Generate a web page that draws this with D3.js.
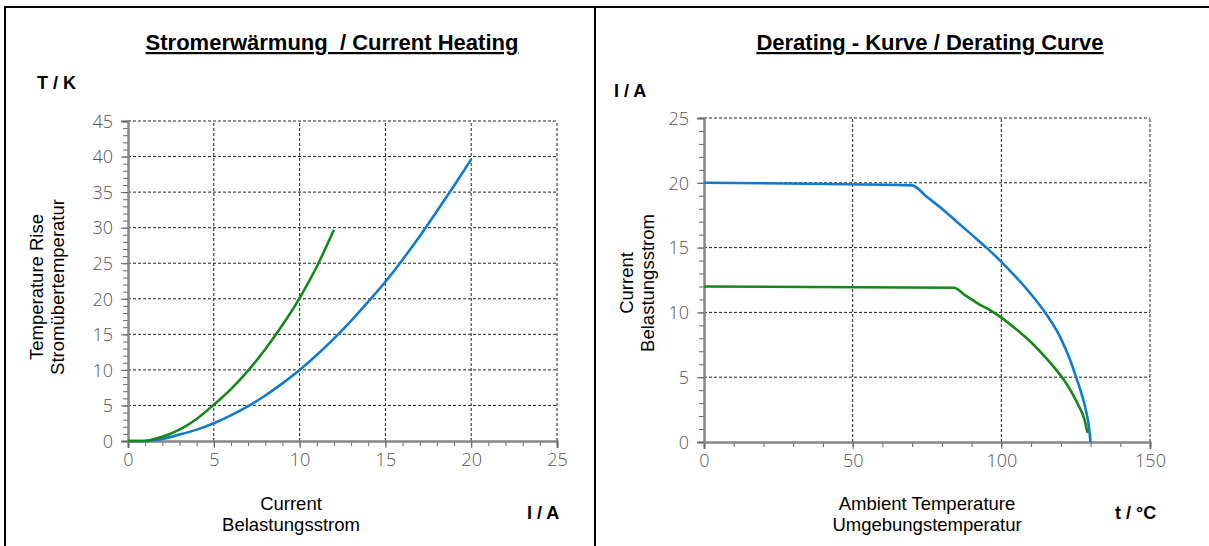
<!DOCTYPE html>
<html lang="de">
<head>
<meta charset="utf-8">
<title>Stromerwärmung / Derating</title>
<script src="https://cdn.jsdelivr.net/npm/d3@7"></script>
<style>
body{margin:0;background:#fff;}
svg text{font-family:"Liberation Sans",Arial,sans-serif;}
.tick text{font-family:"Open Sans","Liberation Sans",sans-serif;font-weight:300;fill:#555;}
</style>
</head>
<body>
<div id="chart"></div>
<script>
var width = 1209,
    height = 546;

// current heating: I / A -> T / K
var heatI = [0,1,2,3,4,5,6,7,8,9,10,11,12,13,14,15,16,17,18,19,20];
var heatBlue = [0,0,0.3,0.9,1.6,2.5,3.6,4.9,6.4,8.1,10,12.1,14.4,16.9,19.6,22.4,25.5,28.8,32.3,35.9,39.6];
var heatGreenI = [0,0.8,2,3,4,5,6,7,8,9,10,11,12];
var heatGreen = [0,0,0.6,1.6,3.1,5.1,7.3,9.9,12.9,16.3,20.1,24.5,29.7];

// derating: t / °C -> I / A
var derBlueT = [0,70,75,80,85,90,95,100,105,110,115,120,123,125,127,128.5,129.5,130];
var derBlue = [20,19.8,18.9,18.0,17.0,16.0,15.0,13.9,12.7,11.4,9.9,8.0,6.4,5.1,3.7,2.4,1.1,0];
var derGreenT = [0,84,88,92,96,100,105,110,115,118,121,124,126,128,129];
var derGreen = [12,11.9,11.3,10.7,10.2,9.6,8.7,7.7,6.5,5.7,4.8,3.7,2.8,1.7,0.7];

var blue = "#0f7ad0", green = "#14891a";

var svg = d3.select("#chart").append("svg")
    .attr("width", width)
    .attr("height", height);

// frame
svg.append("path")
    .attr("d", "M5,546V7H1209M595,7V546")
    .attr("fill", "none")
    .attr("stroke", "#000")
    .attr("stroke-width", 2);

function zip(a, b){
  return a.map(function(v, i){ return [v, b[i]]; });
}

function drawChart(c){
  var x = d3.scaleLinear().domain(c.xDom).range([c.x0, c.x1]);
  var y = d3.scaleLinear().domain(c.yDom).range([c.y0, c.y1]);
  var g = svg.append("g");

  // grid
  var xg = d3.range(c.xDom[0] + c.xStep, c.xDom[1] + 0.001, c.xStep);
  var yg = d3.range(c.yDom[0] + c.yStep, c.yDom[1] + 0.001, c.yStep);
  g.selectAll(".gx").data(xg).enter().append("line")
    .attr("x1", function(d){ return x(d); }).attr("x2", function(d){ return x(d); })
    .attr("y1", c.y0).attr("y2", c.y1)
    .attr("stroke", "#222").attr("stroke-width", 1).attr("stroke-dasharray", "3,2");
  g.selectAll(".gy").data(yg).enter().append("line")
    .attr("y1", function(d){ return y(d); }).attr("y2", function(d){ return y(d); })
    .attr("x1", c.x0).attr("x2", c.x1)
    .attr("stroke", "#222").attr("stroke-width", 1).attr("stroke-dasharray", "3,2");

  // minor ticks
  g.append("g").attr("transform", "translate(0," + c.y0 + ")")
    .call(d3.axisBottom(x).tickValues(d3.range(c.xDom[0], c.xDom[1] + 0.001, c.xMinor)).tickSize(5).tickFormat(""));
  g.append("g").attr("transform", "translate(" + c.x0 + ",0)")
    .call(d3.axisLeft(y).tickValues(d3.range(c.yDom[0], c.yDom[1] + 0.001, c.yMinor)).tickSize(5).tickFormat(""));

  // major ticks + labels
  g.append("g").attr("transform", "translate(0," + c.y0 + ")")
    .call(d3.axisBottom(x).tickValues(d3.range(c.xDom[0], c.xDom[1] + 0.001, c.xStep)).tickSize(7).tickPadding(5));
  var ya = g.append("g").attr("transform", "translate(" + c.x0 + ",0)")
    .call(d3.axisLeft(y).tickValues(d3.range(c.yDom[0], c.yDom[1] + 0.001, c.yStep)).tickSize(7).tickPadding(8));
  g.selectAll(".domain").attr("stroke", "#888").attr("stroke-width", 2);
  g.selectAll(".tick line").attr("stroke", "#666");
  g.selectAll(".tick text").attr("font-size", 18).attr("fill", "#555");
  ya.selectAll(".tick text").attr("dy", "0.35em");

  // curves
  var line = d3.line()
    .x(function(d){ return x(d[0]); })
    .y(function(d){ return y(d[1]); })
    .curve(d3.curveMonotoneX);
  c.series.forEach(function(s){
    g.append("path").datum(s.data)
      .attr("fill", "none").attr("stroke", s.color).attr("stroke-width", 2.6)
      .attr("stroke-linejoin", "round")
      .attr("d", line);
  });

  // titles
  g.append("text").attr("x", c.titleX).attr("y", 50)
    .attr("text-anchor", "middle").attr("font-size", 22).attr("font-weight", "bold")
    .attr("text-decoration", "underline").attr("xml:space", "preserve").text(c.title);
  g.append("text").attr("x", c.yUnitX).attr("y", c.yUnitY)
    .attr("font-size", 18).attr("font-weight", "bold").text(c.yUnit);
  g.append("text").attr("x", c.xUnitX).attr("y", 519)
    .attr("font-size", 18).attr("font-weight", "bold").text(c.xUnit);

  var xl = g.append("text").attr("text-anchor", "middle").attr("font-size", 18.5);
  xl.append("tspan").attr("x", c.xLabelX).attr("y", 510).text(c.xLabel[0]);
  xl.append("tspan").attr("x", c.xLabelX).attr("y", 531).text(c.xLabel[1]);

  var yl = g.append("text").attr("text-anchor", "middle").attr("font-size", 18.5)
    .attr("transform", "translate(" + c.yLabelX + "," + c.yLabelY + ") rotate(-90)");
  yl.append("tspan").attr("x", 0).attr("y", 0).text(c.yLabel[0]);
  yl.append("tspan").attr("x", 0).attr("y", 21).text(c.yLabel[1]);
}

drawChart({
  xDom: [0, 25], yDom: [0, 45], xStep: 5, yStep: 5, xMinor: 1, yMinor: 1,
  x0: 128, x1: 557, y0: 441, y1: 121,
  title: "Stromerwärmung  / Current Heating", titleX: 332,
  yUnit: "T / K", yUnitX: 37, yUnitY: 89,
  xUnit: "I / A", xUnitX: 527,
  xLabel: ["Current", "Belastungsstrom"], xLabelX: 291,
  yLabel: ["Temperature Rise", "Stromübertemperatur"], yLabelX: 43, yLabelY: 287,
  series: [
    {color: blue, data: zip(heatI, heatBlue)},
    {color: green, data: zip(heatGreenI, heatGreen)}
  ]
});

drawChart({
  xDom: [0, 150], yDom: [0, 25], xStep: 50, yStep: 5, xMinor: 10, yMinor: 1,
  x0: 704, x1: 1150, y0: 442, y1: 118,
  title: "Derating - Kurve / Derating Curve", titleX: 930,
  yUnit: "I / A", yUnitX: 614, yUnitY: 97,
  xUnit: "t / °C", xUnitX: 1115,
  xLabel: ["Ambient Temperature", "Umgebungstemperatur"], xLabelX: 927,
  yLabel: ["Current", "Belastungsstrom"], yLabelX: 633, yLabelY: 283,
  series: [
    {color: blue, data: zip(derBlueT, derBlue)},
    {color: green, data: zip(derGreenT, derGreen)}
  ]
});
</script>
</body>
</html>
